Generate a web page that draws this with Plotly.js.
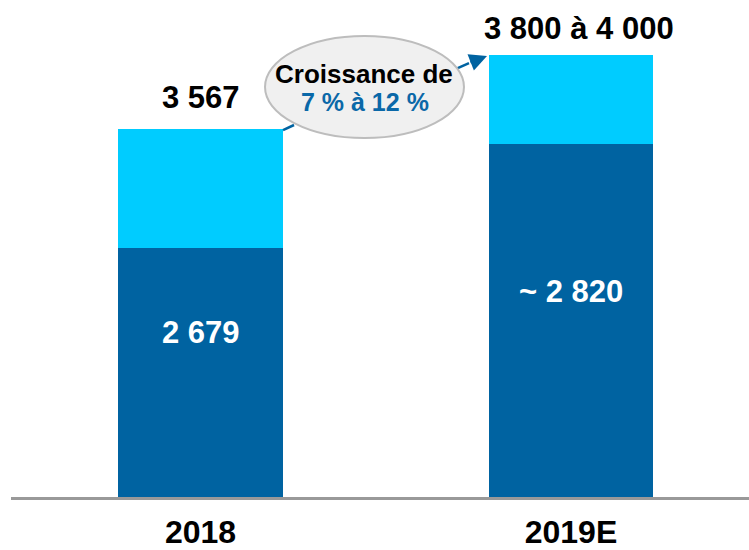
<!DOCTYPE html>
<html>
<head>
<meta charset="utf-8">
<script src="https://cdn.plot.ly/plotly-3.0.1.min.js"></script>
<style>html,body{margin:0;padding:0;background:#fff;}#chart{width:749px;height:550px;}</style>
</head>
<body>
<div id="chart"></div>
<script>
// Data (bar heights as drawn in the picture; labels as printed)
const categories = ['2018', '2019E'];
const baseValues = [2414, 3422];
const topValues = [1153, 862];
const baseLabels = ['2 679', '~ 2 820'];
const totalLabels = ['3 567', '3 800 à 4 000'];
const bubbleLine1 = 'Croissance de';
const bubbleLine2 = '7 % à 12 %';

const DARK = '#0063a1';
const LIGHT = '#00ccff';
const FONT = 'Liberation Sans, Arial, sans-serif';

const traces = [
  { type: 'bar', x: categories, y: baseValues, marker: { color: DARK, line: { width: 0 } },
    width: 0.445, hoverinfo: 'none', showlegend: false },
  { type: 'bar', x: categories, y: topValues, marker: { color: LIGHT, line: { width: 0 } },
    width: 0.445, hoverinfo: 'none', showlegend: false }
];

const baseShift = [40, 29];
const totalShift = [31, 26];
const totalXShift = [0, 8];
const annotations = [];
categories.forEach((c, i) => {
  annotations.push({ x: i, y: baseValues[i] / 2, xref: 'x', yref: 'y', text: baseLabels[i],
    xanchor: 'center', yanchor: 'middle',
    showarrow: false, yshift: baseShift[i], font: { family: FONT, size: 31, color: '#ffffff', weight: 'bold' } });
  annotations.push({ x: i, y: baseValues[i] + topValues[i], xref: 'x', yref: 'y', text: totalLabels[i],
    xanchor: 'center', yanchor: 'middle',
    showarrow: false, yshift: totalShift[i], xshift: totalXShift[i], font: { family: FONT, size: 31, color: '#000000', weight: 'bold' } });
});
annotations.push({ x: 0.4783, y: 0.8511, xref: 'paper', yref: 'paper', text: bubbleLine1, showarrow: false,
  xanchor: 'center', yanchor: 'middle',
  font: { family: FONT, size: 26, color: '#000000', weight: 'bold' } });
annotations.push({ x: 0.4797, y: 0.7948, xref: 'paper', yref: 'paper', text: bubbleLine2, showarrow: false,
  xanchor: 'center', yanchor: 'middle',
  font: { family: FONT, size: 25, color: '#0a68a8', weight: 'bold' } });
// arrow head
annotations.push({ x: 0.645, y: 0.8873, xref: 'paper', yref: 'paper', text: '', showarrow: true,
  ax: -18, ay: 7, arrowhead: 2, arrowsize: 1.4, arrowwidth: 2.5, arrowcolor: DARK, standoff: 0 });

const shapes = [
  { type: 'line', xref: 'paper', yref: 'paper', x0: 0.3686, y0: 0.7384, x1: 0.3835, y1: 0.7485,
    line: { color: DARK, width: 2.5 } },
  { type: 'line', xref: 'paper', yref: 'paper', x0: 0.6030, y0: 0.8612, x1: 0.6206, y1: 0.8732,
    line: { color: DARK, width: 2.5 } },
  { type: 'circle', xref: 'paper', yref: 'paper', x0: 0.3442, x1: 0.6138, y0: 0.7223, y1: 0.9276,
    fillcolor: '#f0f0f0', line: { color: '#bdbdbd', width: 2 } }
];

const layout = {
  width: 749, height: 550,
  margin: { l: 11, r: 0, t: 0, b: 53 },
  paper_bgcolor: '#ffffff', plot_bgcolor: '#ffffff',
  barmode: 'stack',
  xaxis: { type: 'category', range: [-0.5115, 1.4805], showline: true, linecolor: '#999999', linewidth: 3,
    ticks: '', showgrid: false, zeroline: false, ticklabelstandoff: 5,
    tickfont: { family: FONT, size: 32, color: '#000000', weight: 'bold' } },
  yaxis: { range: [0, 4817], showgrid: false, zeroline: false, showticklabels: false, ticks: '', showline: false },
  annotations: annotations,
  shapes: shapes,
  showlegend: false
};

Plotly.newPlot('chart', traces, layout, { displayModeBar: false, staticPlot: true });
</script>
</body>
</html>
